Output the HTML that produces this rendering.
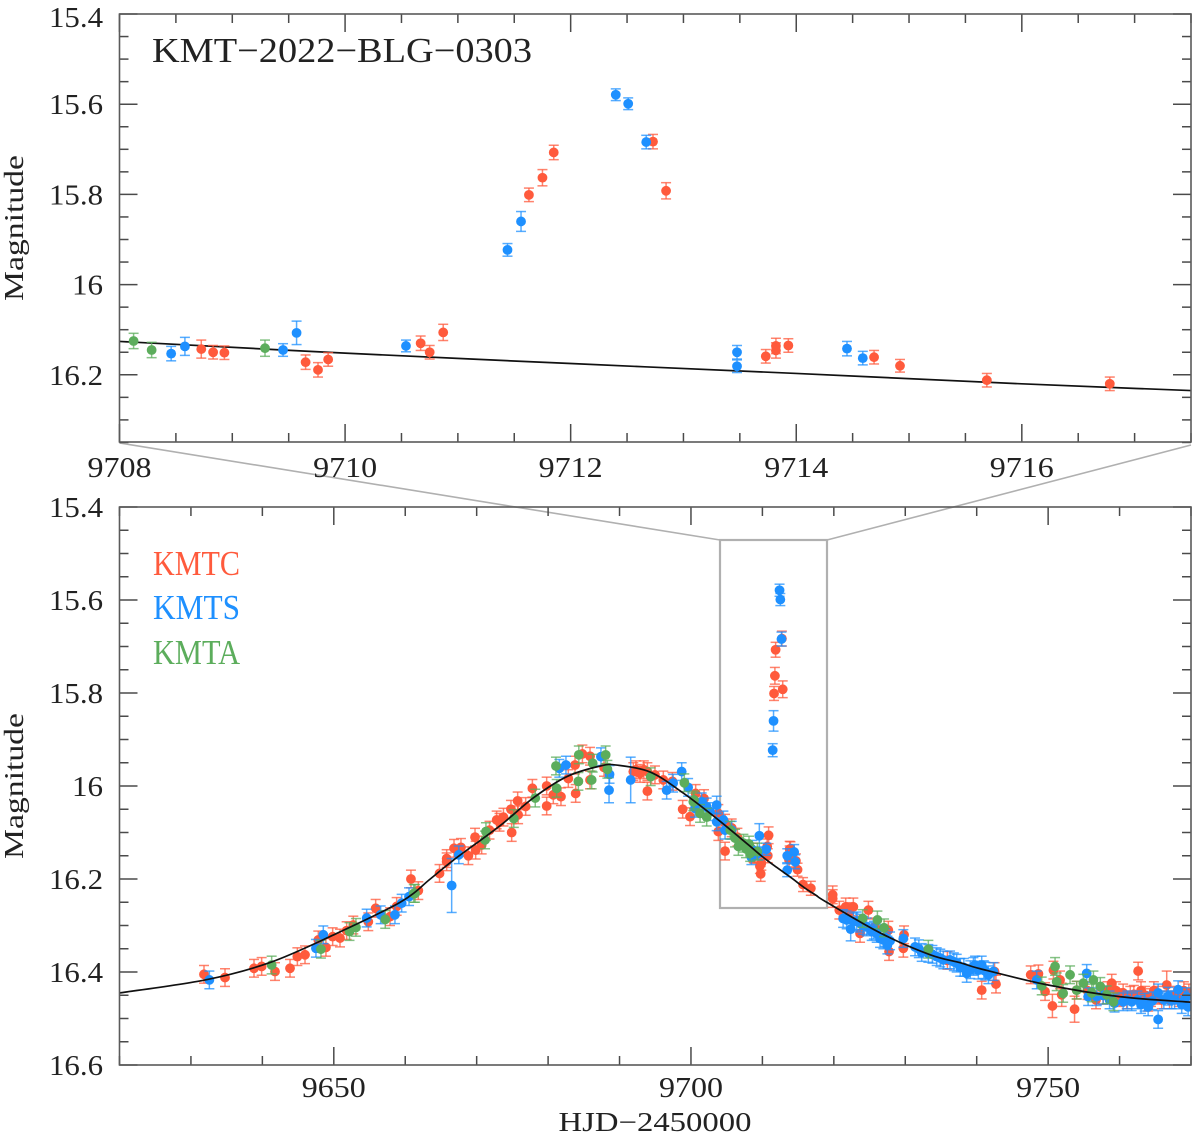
<!DOCTYPE html>
<html lang="en">
<head>
<meta charset="utf-8">
<title>KMT-2022-BLG-0303 light curve</title>
<style>
html,body{margin:0;padding:0;background:#fff;width:1200px;height:1137px;overflow:hidden}
svg{display:block}
text{font-family:"Liberation Serif",serif;fill:#222}
</style>
</head>
<body>
<svg id="chart" width="1200" height="1137" viewBox="0 0 1200 1137" xmlns="http://www.w3.org/2000/svg">
<defs>
<clipPath id="clip-top"><rect x="119.5" y="14" width="1071.5" height="428"/></clipPath>
<clipPath id="clip-main"><rect x="119.5" y="507" width="1071.5" height="558"/></clipPath>
</defs>
<g id="zoom-guides" fill="none" stroke="#b0b0b0">
<line x1="119.5" y1="443" x2="720" y2="540" stroke-width="1.6"/>
<line x1="1191" y1="445" x2="827" y2="540" stroke-width="1.6"/>
<rect x="720" y="540" width="107" height="368" stroke-width="2.2"/>
</g>
<g id="top-panel"></g>
<g id="main-panel"></g>
<text x="152" y="62" font-size="35" textLength="380" lengthAdjust="spacingAndGlyphs">KMT−2022−BLG−0303</text>
<text x="153" y="575" font-size="35" textLength="87" lengthAdjust="spacingAndGlyphs" style="fill:#ff5a3c">KMTC</text>
<text x="153" y="619" font-size="35" textLength="87" lengthAdjust="spacingAndGlyphs" style="fill:#1e90ff">KMTS</text>
<text x="153" y="664" font-size="35" textLength="87" lengthAdjust="spacingAndGlyphs" style="fill:#5cad5c">KMTA</text>
<text transform="translate(23,228) rotate(-90)" text-anchor="middle" font-size="27" textLength="146" lengthAdjust="spacingAndGlyphs">Magnitude</text>
<text transform="translate(23,786) rotate(-90)" text-anchor="middle" font-size="27" textLength="146" lengthAdjust="spacingAndGlyphs">Magnitude</text>
<text x="655" y="1131" text-anchor="middle" font-size="27" textLength="193" lengthAdjust="spacingAndGlyphs">HJD−2450000</text>
</svg>
<script>
// Point rows are [HJD-2450000, magnitude, error]; a missing error uses defaultError.
const defaultError = 0.019;

const topXTickLabels = ["9708", "9710", "9712", "9714", "9716"];
const topYTickLabels = ["15.4", "15.6", "15.8", "16", "16.2"];
const mainXTickLabels = ["9650", "9700", "9750"];
const mainYTickLabels = ["15.4", "15.6", "15.8", "16", "16.2", "16.4", "16.6"];

const modelTimes = [9620, 9632, 9641, 9650, 9659.3, 9663.5, 9666.7, 9673.3, 9677.9, 9682.6, 9687.3, 9689.6, 9694.3, 9698.9, 9703.6, 9708, 9710, 9712, 9714, 9716, 9717.5, 9719, 9726.5, 9733.5, 9737.7, 9740.5, 9750, 9760, 9770];
const modelMags = [16.445, 16.417, 16.38, 16.32, 16.25, 16.2, 16.16, 16.085, 16.026, 15.98, 15.957, 15.955, 15.97, 16.015, 16.07, 16.126, 16.152, 16.175, 16.197, 16.22, 16.235, 16.25, 16.316, 16.363, 16.38, 16.393, 16.428, 16.453, 16.465];

const zoomKmtc = [
[9708.725,16.143,.02],[9708.83,16.15,.015],[9708.93,16.151,.015],[9709.65,16.172,.016],[9709.76,16.189,.016],[9709.85,16.166,.015],
[9710.67,16.13,.016],[9710.75,16.15,.015],[9710.87,16.106,.018],[9711.63,15.801,.015],[9711.75,15.763,.018],[9711.85,15.707,.016],
[9712.73,15.683,.016],[9712.846,15.792,.018],[9713.73,16.159,.015],[9713.82,16.136,.017],[9713.82,16.146,.017],[9713.93,16.135,.015],
[9714.69,16.161,.015],[9714.92,16.18,.014],[9715.69,16.212,.015],[9716.78,16.22,.015]
];
const zoomKmts = [
[9708.458,16.153,.016],[9708.58,16.137,.02],[9709.45,16.145,.014],[9709.57,16.107,.026],[9710.54,16.136,.013],[9711.44,15.923,.014],
[9711.56,15.86,.022],[9712.4,15.579,.013],[9712.51,15.599,.013],[9712.67,15.684,.015],[9713.475,16.15,.015],[9713.475,16.181,.014],
[9714.45,16.142,.016],[9714.59,16.163,.015]
];
const zoomKmta = [
[9708.125,16.125,.017],[9708.285,16.145,.017],[9709.29,16.141,.018]
];

const wideKmtc = [
[9631.83,16.405],[9634.77,16.412],[9638.83,16.392],[9639.9,16.388],[9641.77,16.399],[9643.87,16.392],[9644.9,16.367],[9645.97,16.363],
[9647.83,16.331],[9648.9,16.347],[9649.84,16.324],[9650.87,16.327],[9651.8,16.311],[9652.73,16.299],[9654.83,16.292],[9655.86,16.263],
[9657.87,16.281],[9658.8,16.259],[9660.8,16.2],[9661.83,16.225],[9664.8,16.188],[9665.8,16.156],[9665.8,16.163],[9666.83,16.134],
[9667.8,16.132],[9668.84,16.15],[9669.86,16.138],[9669.77,16.11],[9670.7,16.127],[9671.8,16.095],[9672.8,16.073],[9673.2,16.078],[9673.75,16.067],
[9674.8,16.05],[9674.9,16.1],[9675.8,16.062],[9675.74,16.032],[9676.86,16.044],[9677.8,16.005],[9679.8,16.0],[9679.8,16.043],
[9680.73,16.019],[9681.8,16.023],[9682.83,15.984],[9683.86,16.016],[9683.77,15.955],[9684.8,15.931],[9685.87,15.936],[9685.87,15.987],
[9687.83,15.96],[9691.93,15.969],[9692.3,15.965],[9692.87,15.973],[9693.4,15.965],[9693.9,15.969],[9693.9,16.011],[9694.96,15.976],[9696.13,15.987],
[9697.4,15.99],[9698.84,16.05],[9699.87,16.066],[9700.66,16.016],[9701.83,16.027],[9703.83,16.059],[9703.83,16.098],[9704.77,16.14],[9704.77,16.08],
[9705.7,16.09],[9706.5,16.11],[9719.84,16.242],[9719.84,16.234],[9720.77,16.267],[9721.66,16.26],[9722.2,16.27],[9722.73,16.26],[9723.67,16.317],
[9724.84,16.267],[9725.77,16.303],[9727.63,16.31],[9727.73,16.356],[9729.73,16.349],[9729.83,16.32],[9735.9,16.375],[9740.7,16.439],
[9742.7,16.426],[9742.5,16.399],[9747.56,16.406],[9748.64,16.404],[9749.57,16.442],[9750.6,16.473,.025],[9750.74,16.396],[9751.67,16.417],
[9751.9,16.449,.025],[9753.7,16.48,.028],[9754,16.439],[9755.5,16.44],[9756.7,16.46],[9757.7,16.45],[9758.3,16.44],[9758.9,16.424],[9759.5,16.44],
[9760,16.455],[9760.5,16.445],[9761,16.46],[9761.5,16.45],[9762,16.448],[9762.6,16.398],[9763,16.44],[9763.6,16.45],[9764,16.465],[9764.4,16.455],[9764.8,16.44],[9765.3,16.45],
[9765.9,16.46],[9766.6,16.428,.03],[9767,16.46],[9767.6,16.45],[9768.3,16.455],[9769,16.44],[9769.7,16.445]
];
const wideKmts = [
[9632.58,16.417],[9647.5,16.349],[9648.53,16.32],[9654.6,16.284],[9656.56,16.277],[9658.56,16.277],[9659.5,16.252],[9660.53,16.238],
[9666.5,16.214,.058],[9667.5,16.148],[9681.57,15.962],[9682.5,15.955],[9687.4,15.937],[9688.6,15.975],[9688.53,16.009,.027],[9691.56,15.987,.049],
[9696.6,16.009],[9697.5,15.994],[9698.7,15.969],[9699.6,16.003],[9700.57,16.048],[9701.5,16.034],[9702.2,16.045],[9702.67,16.055],[9703.6,16.041],[9703.6,16.077],
[9704.54,16.073],[9704.77,16.095],[9705.7,16.095],[9721.3,16.285],[9722.36,16.308,.025],[9721.8,16.288],[9722.74,16.292],[9723.2,16.29],[9723.67,16.295],
[9724.1,16.3],[9724.6,16.303],[9725.3,16.313],[9725.6,16.31],[9726,16.317],[9726.47,16.328],[9726.93,16.331],[9727.2,16.326],[9727.5,16.342],[9727.87,16.333],[9729.73,16.328],
[9731.37,16.346],[9731.9,16.35],[9732.3,16.358],[9733.23,16.36],[9733.8,16.362],[9734.4,16.367],[9734.9,16.37],[9735.33,16.374],[9736.27,16.374],[9736.8,16.378],[9737.2,16.381],[9738.6,16.403],
[9739.77,16.385],[9740.23,16.396],[9737.7,16.39],[9738.2,16.39],[9739.1,16.395],[9739.54,16.388],[9740.7,16.385],[9741.2,16.398],[9741.64,16.406],[9742.34,16.399],[9741,16.395],
[9748.4,16.417],[9755.4,16.403],[9755.6,16.453],[9756.8,16.453],[9757.7,16.45],[9758.6,16.46],[9759.3,16.467],[9760.5,16.464],[9761.1,16.46],[9761.7,16.464],[9762.5,16.46],
[9763,16.47],[9763.5,16.465],[9764,16.475],[9764.6,16.462],[9765.4,16.502],[9765.4,16.445],[9766.2,16.46],[9766.8,16.452],[9767.3,16.46],[9767.7,16.46],[9768.2,16.438],[9768.7,16.47],
[9769.1,16.46],[9769.4,16.453],[9769.6,16.475]
];
const wideKmta = [
[9641.3,16.385],[9648.2,16.351],[9652.2,16.313],[9653.1,16.304],[9657.2,16.287],[9661.2,16.231],[9661.37,16.231],[9671.17,16.116],[9671.3,16.098],
[9675.2,16.07],[9678.2,16.026],[9681.2,16.005],[9681.1,15.957],[9684.24,15.99],[9684.3,15.933],[9686.24,15.951],[9686.1,15.987],[9688.06,15.933],
[9688.3,15.964],[9694.36,15.98],[9699.07,15.993],[9700.33,16.034],[9700.43,16.03],[9701.27,16.059],[9702.2,16.067],[9705.5,16.095],[9706.17,16.112],
[9706.64,16.13],[9707.34,16.123],[9707.7,16.135],[9724.04,16.285],[9726.1,16.288],[9727.03,16.305],[9733.23,16.351],[9749.1,16.43],
[9750.97,16.388],[9751.2,16.421],[9752.1,16.446],[9753.07,16.406],[9754,16.439],[9754.93,16.424],[9756.1,16.445],[9756.34,16.417],[9757.3,16.431],
[9758.2,16.449],[9759.14,16.464]
];

const colorKmtc = "#ff5a3c";
const colorKmts = "#1e90ff";
const colorKmta = "#5cad5c";
const SVGNS = "http://www.w3.org/2000/svg";

function makeLine(parent, x1, y1, x2, y2, stroke, width) {
  const el = document.createElementNS(SVGNS, "line");
  el.setAttribute("x1", x1);
  el.setAttribute("y1", y1);
  el.setAttribute("x2", x2);
  el.setAttribute("y2", y2);
  el.setAttribute("stroke", stroke);
  el.setAttribute("stroke-width", width);
  parent.appendChild(el);
  return el;
}

function drawAxes(root, box, tMin, tMax, mMin, mMax, xLabels, yLabels, xMinorStep, xMajorStep, x, y, xLabelBase) {
  const majorLen = 18, minorLen = 9;
  const tickGroup = document.createElementNS(SVGNS, "g");
  
  
  root.appendChild(tickGroup);
  const xCount = Math.round((tMax - tMin) / xMinorStep);
  for (let i = 0; i <= xCount; i++) {
    const t = tMin + i * xMinorStep;
    const isMajor = Math.abs(t / xMajorStep - Math.round(t / xMajorStep)) < 1e-6;
    const len = isMajor ? majorLen : minorLen;
    const bottomTick = makeLine(tickGroup, x(t), box.bottom, x(t), box.bottom - len, "#4a4a4a", 1.5);
    
    
    const topTick = makeLine(tickGroup, x(t), box.top, x(t), box.top + len, "#4a4a4a", 1.5);
    
    
  }
  const yCount = Math.round((mMax - mMin) / 0.05);
  for (let i = 0; i <= yCount; i++) {
    const m = mMin + i * 0.05;
    const isMajor = i % 4 === 0;
    const len = isMajor ? majorLen : minorLen;
    const leftTick = makeLine(tickGroup, box.left, y(m), box.left + len, y(m), "#4a4a4a", 1.5);
    
    
    const rightTick = makeLine(tickGroup, box.right, y(m), box.right - len, y(m), "#4a4a4a", 1.5);
    
    
  }
  const frame = document.createElementNS(SVGNS, "rect");
  
  
  frame.setAttribute("x", box.left);
  frame.setAttribute("y", box.top);
  frame.setAttribute("width", box.right - box.left);
  frame.setAttribute("height", box.bottom - box.top);
  frame.setAttribute("fill", "none");
  frame.setAttribute("stroke", "#5a5a5a");
  frame.setAttribute("stroke-width", "1.6");
  root.appendChild(frame);
  xLabels.forEach(function (label) {
    const tx = document.createElementNS(SVGNS, "text");
    
    
    tx.setAttribute("x", x(parseFloat(label)));
    tx.setAttribute("y", xLabelBase);
    tx.setAttribute("text-anchor", "middle");
    tx.setAttribute("font-size", "29");
    tx.setAttribute("textLength", "64");
    tx.setAttribute("lengthAdjust", "spacingAndGlyphs");
    tx.textContent = label;
    root.appendChild(tx);
  });
  yLabels.forEach(function (label) {
    const tx = document.createElementNS(SVGNS, "text");
    
    
    const width = label.length === 2 ? 31 : 54;
    tx.setAttribute("x", 103 - width);
    tx.setAttribute("y", Math.max(y(parseFloat(label)) + 10, 27));
    tx.setAttribute("font-size", "29");
    tx.setAttribute("textLength", width);
    tx.setAttribute("lengthAdjust", "spacingAndGlyphs");
    tx.textContent = label;
    root.appendChild(tx);
  });
}

function drawSeries(root, rows, color, seriesName, x, y, clipId) {
  const group = document.createElementNS(SVGNS, "g");
  
  
  group.setAttribute("clip-path", "url(#" + clipId + ")");
  root.appendChild(group);
  rows.forEach(function (row) {
    const px = x(row[0]);
    const py = y(row[1]);
    const err = row.length > 2 ? row[2] : defaultError;
    const hi = y(row[1] - err);
    const lo = y(row[1] + err);
    const point = document.createElementNS(SVGNS, "g");
    
    
    group.appendChild(point);
    const stem = makeLine(point, px, hi, px, lo, color, 1.5);
    stem.setAttribute("stroke-opacity", "0.75");
    const capTop = makeLine(point, px - 5, hi, px + 5, hi, color, 1.5);
    capTop.setAttribute("stroke-opacity", "0.75");
    const capBottom = makeLine(point, px - 5, lo, px + 5, lo, color, 1.5);
    capBottom.setAttribute("stroke-opacity", "0.75");
    const dot = document.createElementNS(SVGNS, "circle");
    dot.setAttribute("cx", px);
    dot.setAttribute("cy", py);
    dot.setAttribute("r", "4.9");
    dot.setAttribute("fill", color);
    point.appendChild(dot);
  });
}

function drawModel(root, x, y, clipId) {
  const pts = modelTimes.map(function (t, i) { return [x(t), y(modelMags[i])]; });
  let d = "M" + pts[0][0].toFixed(2) + " " + pts[0][1].toFixed(2);
  for (let i = 0; i < pts.length - 1; i++) {
    const p0 = pts[Math.max(i - 1, 0)], p1 = pts[i], p2 = pts[i + 1], p3 = pts[Math.min(i + 2, pts.length - 1)];
    const c1x = p1[0] + (p2[0] - p0[0]) / 6, c1y = p1[1] + (p2[1] - p0[1]) / 6;
    const c2x = p2[0] - (p3[0] - p1[0]) / 6, c2y = p2[1] - (p3[1] - p1[1]) / 6;
    d += "C" + c1x.toFixed(2) + " " + c1y.toFixed(2) + " " + c2x.toFixed(2) + " " + c2y.toFixed(2) + " " + p2[0].toFixed(2) + " " + p2[1].toFixed(2);
  }
  const path = document.createElementNS(SVGNS, "path");
  
  
  path.setAttribute("d", d);
  path.setAttribute("fill", "none");
  path.setAttribute("stroke", "#111");
  path.setAttribute("stroke-width", "1.7");
  path.setAttribute("clip-path", "url(#" + clipId + ")");
  root.appendChild(path);
}

// Zoomed panel
const topBox = { left: 119.5, right: 1191, top: 14, bottom: 442 };
const topTMin = 9708, topTMax = 9717.5, topMMin = 15.4, topMMax = 16.35;
const topX = function (t) { return topBox.left + (t - topTMin) * (topBox.right - topBox.left) / (topTMax - topTMin); };
const topY = function (m) { return 14 + (m - topMMin) * 451; };
const topRoot = document.getElementById("top-panel");
drawModel(topRoot, topX, topY, "clip-top");
drawSeries(topRoot, zoomKmtc, colorKmtc, "zoom-kmtc", topX, topY, "clip-top");
drawSeries(topRoot, zoomKmts, colorKmts, "zoom-kmts", topX, topY, "clip-top");
drawSeries(topRoot, zoomKmta, colorKmta, "zoom-kmta", topX, topY, "clip-top");
drawAxes(topRoot, topBox, topTMin, topTMax, topMMin, topMMax, topXTickLabels, topYTickLabels, 0.5, 2, topX, topY, 477);

// Full panel
const mainBox = { left: 119.5, right: 1191, top: 507, bottom: 1065 };
const mainTMin = 9620, mainTMax = 9770, mainMMin = 15.4, mainMMax = 16.6;
const mainX = function (t) { return mainBox.left + (t - mainTMin) * (mainBox.right - mainBox.left) / (mainTMax - mainTMin); };
const mainY = function (m) { return mainBox.top + (m - mainMMin) * (mainBox.bottom - mainBox.top) / (mainMMax - mainMMin); };
const mainRoot = document.getElementById("main-panel");
drawSeries(mainRoot, wideKmtc.concat(zoomKmtc), colorKmtc, "kmtc", mainX, mainY, "clip-main");
drawSeries(mainRoot, wideKmts.concat(zoomKmts), colorKmts, "kmts", mainX, mainY, "clip-main");
drawSeries(mainRoot, wideKmta.concat(zoomKmta), colorKmta, "kmta", mainX, mainY, "clip-main");
drawModel(mainRoot, mainX, mainY, "clip-main");
drawAxes(mainRoot, mainBox, mainTMin, mainTMax, mainMMin, mainMMax, mainXTickLabels, mainYTickLabels, 10, 50, mainX, mainY, 1097);
</script>
</body>
</html>
